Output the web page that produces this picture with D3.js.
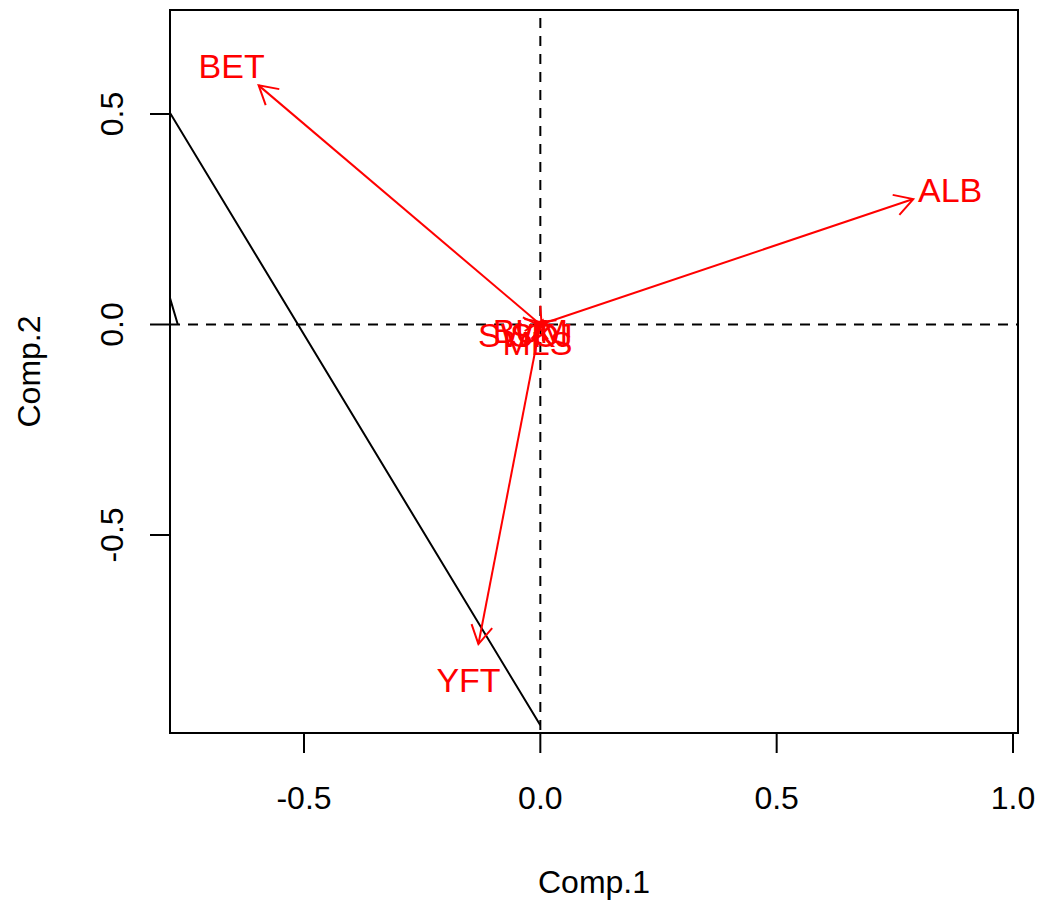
<!DOCTYPE html>
<html>
<head>
<meta charset="utf-8">
<script src="https://cdn.jsdelivr.net/npm/d3@7"></script>
<style>
  body { margin: 0; background: #fff; }
  text { font-family: "Liberation Sans", Arial, sans-serif; }
</style>
</head>
<body>
<svg id="chart"></svg>
<script>
let width = 1040,
    height = 907,
    svg = d3.select("#chart").attr("width", width).attr("height", height);

// loadings (arrow tips) and label positions
const species = ["ALB", "BET", "YFT", "SWO", "BUM", "SKJ", "MLS"];
const comp1 = [0.789, -0.596, -0.131, -0.010, 0.005, 0.010, 0.003];
const comp2 = [0.298, 0.568, -0.759, 0.005, 0.010, 0.004, -0.005];
const labelX = [0.867, -0.653, -0.152, -0.046, -0.021, 0.002, -0.006];
const labelY = [0.319, 0.614, -0.844, -0.024, -0.016, -0.024, -0.045];

// black line (partly outside the plot region)
const lineX = [0, -1.01, -0.767];
const lineY = [-0.952, 0.923, 0];

const xTicks = [-0.5, 0.0, 0.5, 1.0];
const yTicks = [-0.5, 0.0, 0.5];

const box = {left: 170, right: 1018, top: 10, bottom: 733};

let x = d3.scaleLinear().domain([-0.5, 1.0]).range([304, 1013]);
let y = d3.scaleLinear().domain([-0.5, 0.5]).range([535, 114]);

const fontSize = 32;
const labelSize = 34;

svg.append("defs").append("clipPath").attr("id", "plotclip")
    .append("rect")
    .attr("x", box.left).attr("y", box.top)
    .attr("width", box.right - box.left).attr("height", box.bottom - box.top);

let plot = svg.append("g").attr("clip-path", "url(#plotclip)");

// dashed reference lines
plot.append("line")
    .attr("x1", box.left).attr("x2", box.right)
    .attr("y1", y(0)).attr("y2", y(0))
    .attr("stroke", "black").attr("stroke-width", 2)
    .attr("stroke-dasharray", "10,8");
plot.append("line")
    .attr("x1", x(0)).attr("x2", x(0))
    .attr("y1", 18).attr("y2", box.bottom)
    .attr("stroke", "black").attr("stroke-width", 2)
    .attr("stroke-dasharray", "10,8");

// black line
plot.append("path")
    .datum(d3.range(lineX.length))
    .attr("d", d3.line().x(i => x(lineX[i])).y(i => y(lineY[i])))
    .attr("fill", "none")
    .attr("stroke", "black")
    .attr("stroke-width", 2);

// arrows
const headLen = 21, headAng = Math.PI / 6;
species.forEach(function (name, i) {
    let x0 = x(0), y0 = y(0), x1 = x(comp1[i]), y1 = y(comp2[i]);
    let a = Math.atan2(y1 - y0, x1 - x0);
    plot.append("line")
        .attr("x1", x0).attr("y1", y0).attr("x2", x1).attr("y2", y1)
        .attr("stroke", "red").attr("stroke-width", 2);
    let p1 = [x1 - headLen * Math.cos(a - headAng), y1 - headLen * Math.sin(a - headAng)];
    let p2 = [x1 - headLen * Math.cos(a + headAng), y1 - headLen * Math.sin(a + headAng)];
    plot.append("path")
        .attr("d", "M" + p1 + "L" + [x1, y1] + "L" + p2)
        .attr("fill", "none").attr("stroke", "red").attr("stroke-width", 2);
});

// labels
svg.selectAll("text.lab")
    .data(species)
    .enter()
    .append("text")
    .attr("class", "lab")
    .attr("x", (d, i) => x(labelX[i]))
    .attr("y", (d, i) => y(labelY[i]))
    .attr("text-anchor", "middle")
    .attr("dominant-baseline", "central")
    .attr("fill", "red")
    .style("font-size", labelSize + "px")
    .text(d => d);

// box
svg.append("rect")
    .attr("x", box.left).attr("y", box.top)
    .attr("width", box.right - box.left).attr("height", box.bottom - box.top)
    .attr("fill", "none").attr("stroke", "black").attr("stroke-width", 2);

// x axis
let xAxis = svg.append("g").attr("transform", "translate(0," + box.bottom + ")");
xAxis.append("line")
    .attr("x1", x(xTicks[0])).attr("x2", x(xTicks[xTicks.length - 1]))
    .attr("stroke", "black").attr("stroke-width", 2);
xTicks.forEach(function (t) {
    xAxis.append("line").attr("x1", x(t)).attr("x2", x(t)).attr("y1", 0).attr("y2", 20)
        .attr("stroke", "black").attr("stroke-width", 2);
    xAxis.append("text").attr("x", x(t)).attr("y", 76)
        .attr("text-anchor", "middle").style("font-size", fontSize + "px")
        .text(d3.format(".1f")(t).replace("−", "-"));
});

// y axis
let yAxis = svg.append("g").attr("transform", "translate(" + box.left + ",0)");
yAxis.append("line")
    .attr("y1", y(yTicks[0])).attr("y2", y(yTicks[yTicks.length - 1]))
    .attr("stroke", "black").attr("stroke-width", 2);
yTicks.forEach(function (t) {
    yAxis.append("line").attr("y1", y(t)).attr("y2", y(t)).attr("x1", 0).attr("x2", -20)
        .attr("stroke", "black").attr("stroke-width", 2);
    yAxis.append("text")
        .attr("transform", "translate(-47," + y(t) + ") rotate(-90)")
        .attr("text-anchor", "middle").style("font-size", fontSize + "px")
        .text(d3.format(".1f")(t).replace("−", "-"));
});

// axis titles
svg.append("text")
    .attr("x", (box.left + box.right) / 2).attr("y", 893)
    .attr("text-anchor", "middle").style("font-size", fontSize + "px")
    .text("Comp.1");
svg.append("text")
    .attr("transform", "translate(40," + (box.top + box.bottom) / 2 + ") rotate(-90)")
    .attr("text-anchor", "middle").style("font-size", fontSize + "px")
    .text("Comp.2");
</script>
</body>
</html>
